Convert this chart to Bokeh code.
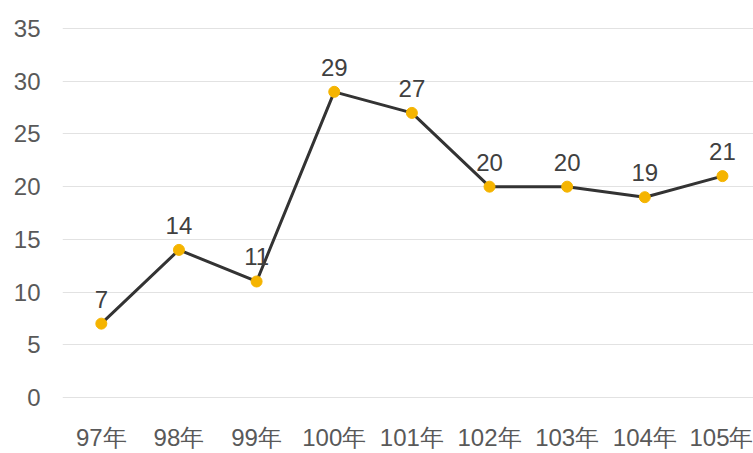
from bokeh.plotting import figure
from bokeh.models import ColumnDataSource, Range1d, FixedTicker
from bokeh.core.properties import value
from bokeh.embed import file_html
from bokeh.resources import INLINE

years = ["97年", "98年", "99年", "100年", "101年", "102年", "103年", "104年", "105年"]
counts = [7, 14, 11, 29, 27, 20, 20, 19, 21]
y_ticks = [0, 5, 10, 15, 20, 25, 30, 35]

FONT = "Liberation Sans"
xs = list(range(len(years)))
src = ColumnDataSource(dict(x=xs, y=counts, label=[str(v) for v in counts]))

p = figure(width=753, height=453, output_backend="svg", toolbar_location=None,
           x_range=Range1d(-0.5, 8.4), y_range=Range1d(-0.2, 35.2),
           min_border_left=62, min_border_right=0, min_border_top=26, min_border_bottom=50)
p.outline_line_color = None
p.background_fill_color = "white"
p.border_fill_color = "white"

# horizontal gridlines only
p.xgrid.grid_line_color = None
p.ygrid.grid_line_color = "#e2e2e2"
p.ygrid.grid_line_width = 1
p.yaxis.ticker = FixedTicker(ticks=y_ticks)
p.xaxis.ticker = FixedTicker(ticks=xs)
p.xaxis.major_label_overrides = {i: t for i, t in enumerate(years)}

for ax in (p.xaxis, p.yaxis):
    ax.axis_line_color = None
    ax.major_tick_line_color = None
    ax.minor_tick_line_color = None
    ax.major_tick_out = 0
    ax.major_tick_in = 0
    ax.major_label_text_font = FONT
    ax.major_label_text_font_size = "24px"
    ax.major_label_text_color = "#595959"
p.xaxis.major_label_standoff = 24
p.yaxis.major_label_standoff = 22

p.line("x", "y", source=src, line_color="#333333", line_width=3)
p.scatter("x", "y", source=src, size=11, fill_color="#F5B400", line_color="#F5B400")
p.text("x", "y", text="label", source=src, text_align="center", text_baseline="bottom",
       y_offset=-16, text_font_size="24px", text_color="#404040", text_font=value(FONT))

open("out.html", "w").write(file_html(p, INLINE))
